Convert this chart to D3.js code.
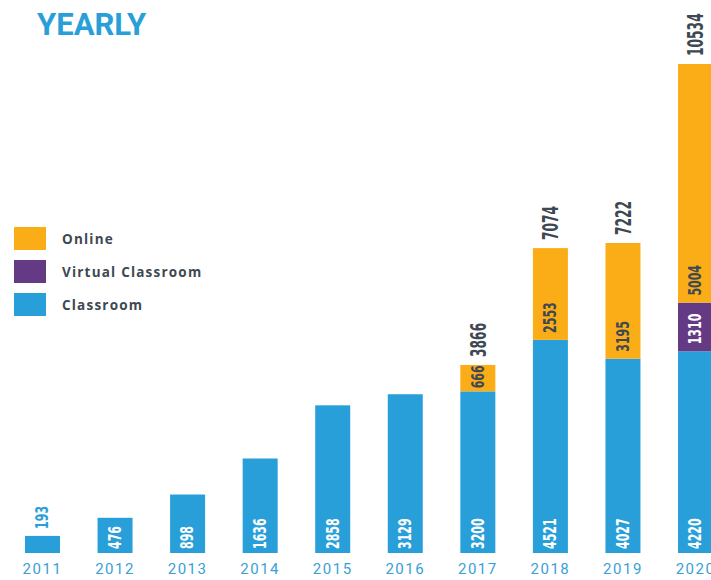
<!DOCTYPE html>
<html><head><meta charset="utf-8">
<script src="https://cdn.jsdelivr.net/npm/d3@7"></script>
<style>
html,body{margin:0;padding:0;background:#fff;}
svg{display:block;}
</style></head>
<body>
<script>
const years = ["2011","2012","2013","2014","2015","2016","2017","2018","2019","2020"];
const classroom = [193,476,898,1636,2858,3129,3200,4521,4027,4220];
const virtualClass = [0,0,0,0,0,0,0,0,0,1310];
const online = [0,0,0,0,0,0,666,2553,3195,5004];
const seriesNames = ["Online","Virtual Classroom","Classroom"];
const colors = {"Classroom":"#299fd9","Virtual Classroom":"#633a83","Online":"#fbad18"};

const W = 711, H = 580;
const svg = d3.select("body").append("svg").attr("width", W).attr("height", H);

const rows = years.map((y,i)=>({year:y, Classroom:classroom[i], "Virtual Classroom":virtualClass[i], Online:online[i]}));
rows.forEach(r=>{ r.total = r.Classroom + r["Virtual Classroom"] + r.Online; });
const totals = rows.map(r=>r.total);
const maxTotal = d3.max(totals);
const secondTotal = d3.max(totals.filter(t=>t<maxTotal));

const x = d3.scaleBand().domain(years).range([6.2, 731.8]).paddingInner(0.5176).paddingOuter(0.2588);
// infographic-style compressed scale (power scale with a break before the largest bar)
const y = d3.scalePow().exponent(0.8).domain([0, secondTotal, maxTotal]).range([553, 243, 64]);

const stack = d3.stack().keys(["Classroom","Virtual Classroom","Online"]);
const stacked = stack(rows);

const gBars = svg.append("g");
stacked.forEach(layer=>{
  gBars.selectAll(null).data(layer.filter(d=>d[1]-d[0]>0)).enter().append("rect")
    .attr("x", d=>x(d.data.year))
    .attr("width", x.bandwidth())
    .attr("y", d=>y(d[1]))
    .attr("height", d=>y(d[0])-y(d[1]))
    .attr("fill", colors[layer.key]);
});

const fontNarrow = "'Liberation Sans Narrow','DejaVu Sans Condensed',sans-serif";
function vlabel(cx, yb, txt, color, size, sx){
  svg.append("text")
    .attr("transform", `translate(${cx},${yb}) rotate(-90) scale(${sx},1)`)
    .attr("text-anchor","start")
    .attr("dominant-baseline","central")
    .attr("font-family", fontNarrow)
    .attr("font-weight","bold")
    .attr("font-size", size)
    .attr("fill", color)
    .text(txt);
}

// segment labels
stacked.forEach(layer=>{
  layer.forEach(d=>{
    const v = d[1]-d[0];
    if (v<=0) return;
    const cx = x(d.data.year) + x.bandwidth()/2;
    const h = y(d[0]) - y(d[1]);
    let color, yb;
    if (layer.key==="Classroom") {
      if (h < 28) { color = colors["Classroom"]; yb = y(d[1]) - 7; }
      else { color = "#ffffff"; yb = y(d[0]) - 4; }
    } else if (layer.key==="Virtual Classroom") {
      color = "#ffffff"; yb = y(d[0]) - 7;
    } else {
      color = "#3d4852"; yb = y(d[0]) - (h < 40 ? 3 : 7);
    }
    vlabel(cx, yb, String(v), color, 18, 0.68);
  });
});

// totals
rows.forEach(r=>{
  const parts = [r.Classroom, r["Virtual Classroom"], r.Online].filter(v=>v>0).length;
  if (parts>1) {
    vlabel(x(r.year)+x.bandwidth()/2, y(r.total)-8, String(r.total), "#3d4852", 22, 0.62);
  }
});

// x axis labels
const xAxis = d3.axisBottom(x).tickSize(0).tickPadding(0);
const gx = svg.append("g").attr("transform","translate(0,563)").call(xAxis);
gx.select(".domain").remove();
gx.selectAll("text")
  .attr("font-family","Roboto, 'DejaVu Sans', sans-serif")
  .attr("font-size",15)
  .attr("letter-spacing","1.5px")
  .attr("fill","#3a9fd6")
  .attr("dy","0.71em");

// title
svg.append("text").attr("x",37).attr("y",35)
  .attr("font-family","Roboto, 'DejaVu Sans', sans-serif")
  .attr("font-weight","bold").attr("font-size",31)
  .attr("fill","#299fd9").text("YEARLY");

// legend
const lg = svg.append("g");
seriesNames.forEach((n,i)=>{
  const gy = 227 + i*33;
  lg.append("rect").attr("x",14).attr("y",gy).attr("width",32).attr("height",23).attr("fill",colors[n]);
  lg.append("text").attr("x",62).attr("y",gy+12)
    .attr("dominant-baseline","central")
    .attr("font-family","'Open Sans', 'DejaVu Sans', sans-serif")
    .attr("font-weight","bold").attr("font-size",13.5)
    .attr("letter-spacing","1.2px")
    .attr("fill","#3d4852").text(n);
});
</script>
</body></html>
